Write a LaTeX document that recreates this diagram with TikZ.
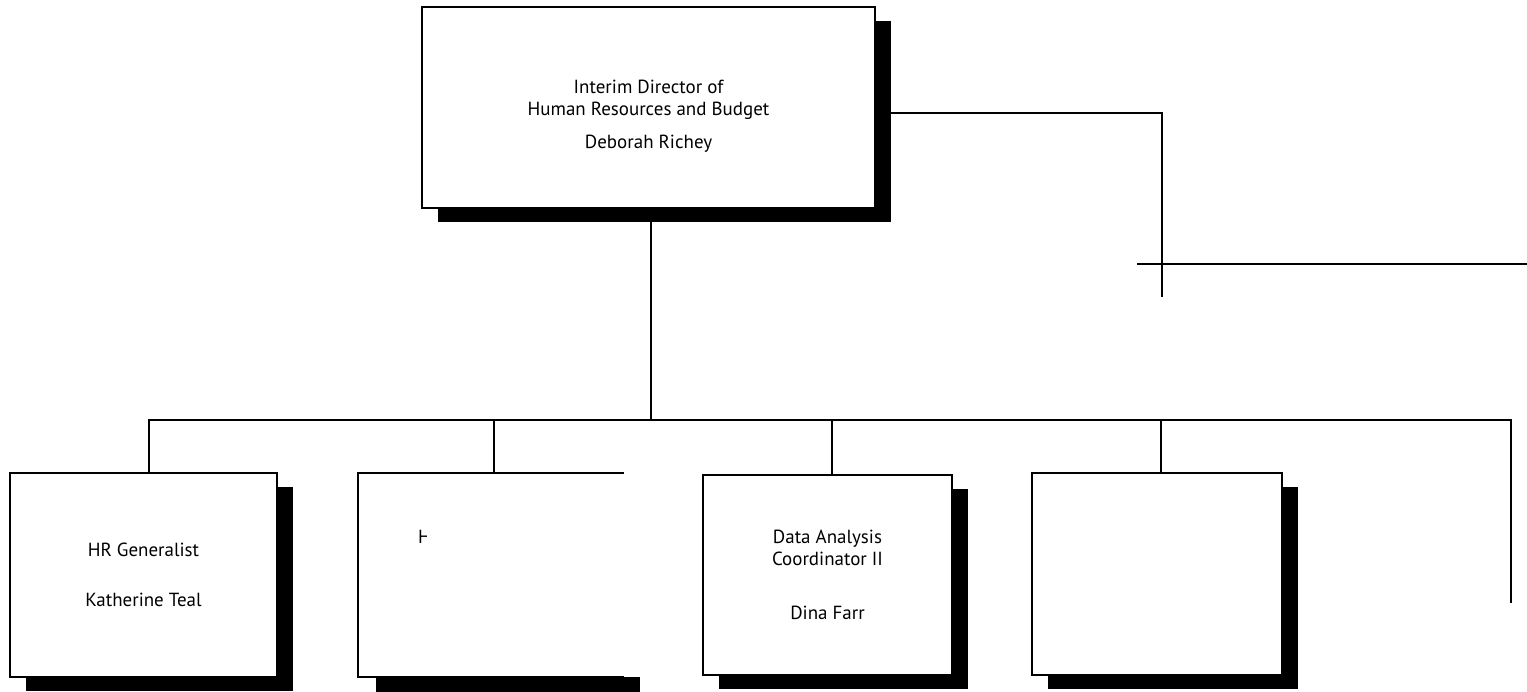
\documentclass[tikz,border=0pt]{standalone}
\usepackage{fontspec}
\setmainfont{PT Sans}
\usetikzlibrary{shadows}
\begin{document}
\begin{tikzpicture}[x=0.02cm,y=-0.02cm,line width=1.3pt,
	box/.style={draw,fill=white,inner sep=0pt,outer sep=0pt,align=center,
		font=\fontsize{10.8}{12.5}\selectfont,
		general shadow={fill=black,shadow xshift=0.32cm,shadow yshift=-0.28cm}},
	stub/.style={fill=white,inner sep=0pt,outer sep=0pt,
		font=\fontsize{10.8}{12.5}\selectfont}]
	    
	    \useasboundingbox (0,0) rectangle (1527,691);
	    
	    \node [box,minimum width=9.06cm,minimum height=4.02cm] (dir) at (648.5,107.5) {};
	    \node [stub,fill=none,align=center] (dirtext) at (648.5,116) {Interim Director of\\Human Resources and Budget\\[6pt]Deborah Richey};
	    
	    \coordinate (rt) at (1162,113);
	    \coordinate (rb) at (1162,297);
	    \coordinate (cl) at (1137,264);
	    \coordinate (cr) at (1527,264);
	    \draw (dir.east |- rt) -- (rt) -- (rb);
	    \draw (cl) -- (cr);
	    
	    \coordinate (top) at (651,420);
	    \coordinate (bl) at (148,420);
	    \coordinate (br) at (1511,420);
	    \coordinate (bend) at (1511,603);
	    \draw (top |- dir.south) -- (top);
	    \draw (bl) -- (br) -- (bend);
	    
	    \coordinate (j1) at (149,420);
	    \coordinate (j2) at (494,420);
	    \coordinate (j3) at (832,420);
	    \coordinate (j4) at (1161,420);
	    
	    \node [box,minimum width=5.34cm,minimum height=4.08cm] (b1) at (143.5,575) {HR Generalist\\[16pt]Katherine Teal};
	    \node [box,minimum width=4.98cm,minimum height=4cm] (b3) at (827.5,575) {Data Analysis\\Coordinator II\\[18pt]Dina Farr};
	    \node [box,minimum width=5cm,minimum height=4.04cm] (b4) at (1157,574) {};
	    
	    \node [stub,minimum width=5.32cm,minimum height=4.08cm] (b2) at (491,575) {};
	    \fill ([xshift=0.36cm]b2.south west) rectangle ([xshift=0.32cm,yshift=-0.3cm]b2.south east);
	    \draw (b2.north east) -- (b2.north west) -- (b2.south west) -- (b2.south east);
	    \begin{scope}
	    	\clip (b2.north west) rectangle (426,677);
	    	\node [stub,fill=none,anchor=west] (hcut) at (418,537) {H};
	    \end{scope}
	    
	    \draw (j1) -- (j1 |- b1.north);
	    \draw (j2) -- (j2 |- b2.north);
	    \draw (j3) -- (j3 |- b3.north);
	    \draw (j4) -- (j4 |- b4.north);
	    
\end{tikzpicture}
\end{document}
